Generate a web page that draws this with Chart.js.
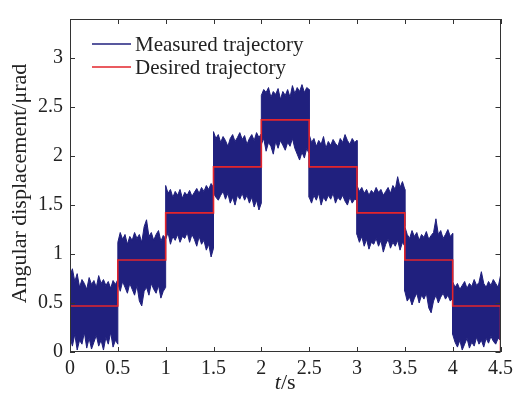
<!DOCTYPE html>
<html lang="en">
<head>
  <meta charset="UTF-8">
  <title>Angular displacement steps</title>
  <script src="https://cdn.jsdelivr.net/npm/chart.js"></script>
  <style>
    body { margin: 0; background: #fff; }
    #wrap { width: 518px; height: 394px; }
  </style>
</head>
<body>
<div id="wrap"><canvas id="myChart"></canvas></div>

<script>
  // step boundaries (s) and desired levels (µrad)
  const stepStarts = [0, 0.5, 1, 1.5, 2, 2.5, 3, 3.5, 4];
  const stepLen = 0.5;
  const desiredLevels = [0.47, 0.94, 1.42, 1.89, 2.37, 1.89, 1.42, 0.94, 0.47];

  // measured trajectory: upper / lower edges of the noise band, 21 samples per step
  const measuredUpper = [
    [0.78, 0.85, 0.72, 0.80, 0.66, 0.74, 0.70, 0.64, 0.76, 0.69, 0.73, 0.66, 0.78, 0.70, 0.74, 0.68, 0.72, 0.65, 0.73, 0.69, 0.74],
    [1.12, 1.22, 1.15, 1.20, 1.10, 1.18, 1.14, 1.22, 1.16, 1.20, 1.12, 1.28, 1.35, 1.18, 1.22, 1.14, 1.20, 1.24, 1.13, 1.19, 1.16],
    [1.70, 1.62, 1.66, 1.58, 1.64, 1.60, 1.66, 1.57, 1.63, 1.60, 1.65, 1.59, 1.63, 1.67, 1.62, 1.68, 1.64, 1.70, 1.66, 1.72, 1.68],
    [2.25, 2.18, 2.22, 2.14, 2.20, 2.16, 2.10, 2.18, 2.22, 2.15, 2.19, 2.24, 2.17, 2.21, 2.12, 2.18, 2.22, 2.16, 2.24, 2.19, 2.23],
    [2.62, 2.68, 2.65, 2.70, 2.60, 2.66, 2.63, 2.69, 2.58, 2.66, 2.62, 2.68, 2.60, 2.72, 2.64, 2.70, 2.66, 2.73, 2.65, 2.70, 2.68],
    [2.22, 2.14, 2.18, 2.10, 2.16, 2.12, 2.20, 2.08, 2.15, 2.11, 2.17, 2.13, 2.10, 2.18, 2.14, 2.22, 2.16, 2.12, 2.18, 2.14, 2.16],
    [1.70, 1.64, 1.68, 1.62, 1.66, 1.60, 1.65, 1.62, 1.68, 1.63, 1.66, 1.60, 1.64, 1.68, 1.62, 1.70, 1.66, 1.79, 1.68, 1.74, 1.66],
    [1.28, 1.20, 1.16, 1.24, 1.18, 1.22, 1.14, 1.20, 1.17, 1.23, 1.15, 1.19, 1.22, 1.36, 1.20, 1.24, 1.16, 1.20, 1.25, 1.18, 1.21],
    [0.72, 0.66, 0.70, 0.64, 0.68, 0.72, 0.65, 0.70, 0.67, 0.74, 0.68, 0.71, 0.82, 0.70, 0.66, 0.72, 0.68, 0.74, 0.70, 0.66, 0.78]
  ];
  const measuredLower = [
    [0.15, 0.06, 0.18, 0.02, 0.12, 0.08, 0.20, 0.04, 0.14, 0.03, 0.10, 0.17, 0.06, 0.12, 0.02, 0.15, 0.08, 0.20, 0.05, 0.12, 0.08],
    [0.70, 0.62, 0.72, 0.66, 0.60, 0.70, 0.64, 0.58, 0.68, 0.52, 0.47, 0.62, 0.66, 0.58, 0.70, 0.64, 0.60, 0.68, 0.55, 0.62, 0.66],
    [1.15, 1.22, 1.10, 1.18, 1.14, 1.20, 1.12, 1.18, 1.16, 1.22, 1.12, 1.20, 1.15, 1.08, 1.18, 1.10, 1.14, 1.04, 1.10, 0.97, 1.06],
    [1.62, 1.58, 1.55, 1.60, 1.64, 1.56, 1.62, 1.52, 1.58, 1.50, 1.60, 1.56, 1.62, 1.55, 1.60, 1.52, 1.58, 1.48, 1.55, 1.45, 1.52],
    [2.12, 2.18, 2.05, 2.14, 2.10, 2.02, 2.15, 2.08, 2.16, 2.11, 2.06, 2.14, 2.10, 2.18, 2.08, 2.02, 1.96, 2.04, 1.98, 2.08, 2.02],
    [1.58, 1.52, 1.60, 1.55, 1.62, 1.50, 1.58, 1.54, 1.60, 1.56, 1.62, 1.52, 1.58, 1.55, 1.60, 1.54, 1.50, 1.58, 1.52, 1.56, 1.55],
    [1.20, 1.12, 1.18, 1.08, 1.15, 1.05, 1.12, 1.10, 1.16, 1.08, 1.14, 1.02, 1.10, 1.15, 1.06, 1.12, 1.08, 1.14, 1.04, 1.12, 1.08],
    [0.62, 0.52, 0.56, 0.48, 0.55, 0.60, 0.50, 0.58, 0.54, 0.60, 0.45, 0.40, 0.52, 0.58, 0.50, 0.56, 0.60, 0.54, 0.58, 0.52, 0.55],
    [0.18, 0.10, 0.05, 0.12, 0.02, 0.08, 0.14, 0.04, 0.10, 0.06, 0.15, 0.08, 0.12, 0.05, 0.14, 0.09, 0.16, 0.11, 0.08, 0.14, 0.12]
  ];

  const xTicks = [0, 0.5, 1, 1.5, 2, 2.5, 3, 3.5, 4, 4.5];
  const yTicks = [0, 0.5, 1, 1.5, 2, 2.5, 3];

  const navy = '#20207e';
  const red = '#e3242b';
  const serif = '"Liberation Serif", "Times New Roman", serif';

  // build point lists
  function bandPoints(edges) {
    const pts = [];
    edges.forEach((vals, s) => {
      const dt = stepLen / (vals.length - 1);
      vals.forEach((v, i) => pts.push({ x: stepStarts[s] + i * dt, y: v }));
    });
    return pts;
  }
  const upperPts = bandPoints(measuredUpper);
  const lowerPts = bandPoints(measuredLower);

  const desiredPts = [{ x: 0, y: 0 }];
  desiredLevels.forEach((lv, s) => {
    desiredPts.push({ x: stepStarts[s], y: lv });
    desiredPts.push({ x: stepStarts[s] + stepLen, y: lv });
  });
  desiredPts.push({ x: 4.5, y: 0 });

  // frame, inward ticks, legend and axis titles
  const decorations = {
    id: 'decorations',
    afterDraw(chart) {
      const ctx = chart.ctx;
      const { left, right, top, bottom } = chart.chartArea;
      const xs = chart.scales.x, ys = chart.scales.y;
      ctx.save();
      ctx.strokeStyle = '#333';
      ctx.lineWidth = 1;
      ctx.strokeRect(Math.round(left) + 0.5, Math.round(top) + 0.5,
        Math.round(right - left) - 1, Math.round(bottom - top) - 1);
      ctx.beginPath();
      xTicks.forEach(v => {
        const px = Math.round(xs.getPixelForValue(v)) + 0.5;
        ctx.moveTo(px, bottom); ctx.lineTo(px, bottom - 5);
        ctx.moveTo(px, top); ctx.lineTo(px, top + 5);
      });
      yTicks.forEach(v => {
        const py = Math.round(ys.getPixelForValue(v)) + 0.5;
        ctx.moveTo(left, py); ctx.lineTo(left + 5, py);
        ctx.moveTo(right, py); ctx.lineTo(right - 5, py);
      });
      ctx.stroke();

      // legend
      const items = [['Measured trajectory', navy], ['Desired trajectory', red]];
      ctx.font = '21px ' + serif;
      ctx.textBaseline = 'middle';
      ctx.textAlign = 'left';
      items.forEach((it, i) => {
        const ly = top + 25 + i * 23;
        ctx.strokeStyle = it[1];
        ctx.lineWidth = 1.5;
        ctx.beginPath();
        ctx.moveTo(left + 22, ly); ctx.lineTo(left + 61, ly);
        ctx.stroke();
        ctx.fillStyle = '#222';
        ctx.fillText(it[0], left + 65, ly + 1);
      });

      // x title: italic t + "/s"
      ctx.font = 'italic 22px ' + serif;
      const w1 = ctx.measureText('t').width;
      ctx.font = '22px ' + serif;
      const w2 = ctx.measureText('/s').width;
      const cx = (left + right) / 2 - (w1 + w2) / 2;
      ctx.textBaseline = 'alphabetic';
      ctx.font = 'italic 22px ' + serif;
      ctx.fillText('t', cx, 389);
      ctx.font = '22px ' + serif;
      ctx.fillText('/s', cx + w1, 389);

      // y title
      ctx.translate(20, (top + bottom) / 2 - 2);
      ctx.rotate(-Math.PI / 2);
      ctx.textAlign = 'center';
      ctx.textBaseline = 'middle';
      ctx.fillText('Angular displacement/\u03bcrad', 0, 0);
      ctx.restore();
    }
  };

  const config = {
    type: 'line',
    data: {
      datasets: [
        {
          label: 'Measured trajectory',
          data: upperPts,
          borderColor: navy,
          backgroundColor: navy,
          borderWidth: 1,
          pointRadius: 0,
          fill: '+1',
          order: 1
        },
        {
          label: 'measured lower',
          data: lowerPts,
          borderColor: navy,
          backgroundColor: navy,
          borderWidth: 1,
          pointRadius: 0,
          fill: false,
          order: 2
        },
        {
          label: 'Desired trajectory',
          data: desiredPts,
          borderColor: red,
          borderWidth: 1.6,
          pointRadius: 0,
          fill: false,
          order: 0
        }
      ]
    },
    options: {
      responsive: true,
      maintainAspectRatio: false,
      animation: false,
      layout: { padding: { top: 11, right: 16, left: 0, bottom: 0 } },
      plugins: {
        legend: { display: false },
        tooltip: { enabled: false }
      },
      scales: {
        x: {
          type: 'linear',
          min: 0,
          max: 4.5,
          grid: { display: false, drawTicks: false },
          border: { display: false },
          afterBuildTicks: s => { s.ticks = xTicks.map(v => ({ value: v })); },
          afterFit: s => { s.height = 42; },
          ticks: {
            padding: 5,
            maxRotation: 0,
            autoSkip: false,
            color: '#222',
            font: { family: serif, size: 20 },
            callback: v => String(v)
          }
        },
        y: {
          min: 0,
          max: 3.4,
          grid: { display: false, drawTicks: false },
          border: { display: false },
          afterBuildTicks: s => { s.ticks = yTicks.map(v => ({ value: v })); },
          afterFit: s => { s.width = 70; },
          ticks: {
            padding: 7,
            color: '#222',
            font: { family: serif, size: 20 },
            callback: v => String(v)
          }
        }
      }
    },
    plugins: [decorations]
  };

  new Chart(document.getElementById('myChart'), config);
</script>
</body>
</html>
